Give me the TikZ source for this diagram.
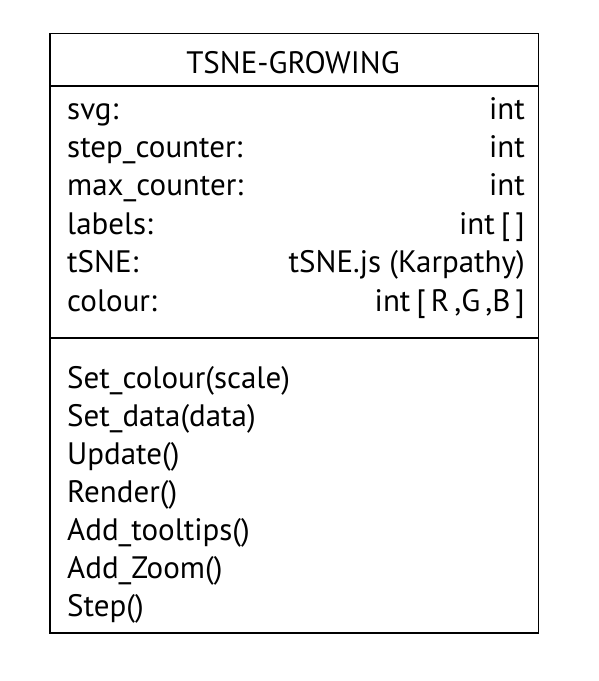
\documentclass[tikz,border=0pt]{standalone}
\usepackage{fontspec}
\setmainfont{PT Sans}
\begin{document}
\begin{tikzpicture}[x=1pt,y=1pt,
  umltext/.style={inner sep=0pt,font=\fontsize{31}{36}\selectfont},
  lefttext/.style={umltext,anchor=base west},
  righttext/.style={umltext,anchor=base east},
  frame/.style={draw=black,line width=1.7pt}]
\useasboundingbox (0,0) rectangle (599,-681);
\coordinate (tl) at (50,-33.5);
\coordinate (br) at (538.5,-633);
\coordinate (h1) at (50,-86);
\coordinate (h2) at (538.5,-86);
\coordinate (s1) at (50,-338);
\coordinate (s2) at (538.5,-338);
\draw[frame] (tl) rectangle (br);
\draw[frame] (h1) -- (h2);
\draw[frame] (s1) -- (s2);
\node[umltext,anchor=base] (title) at (293,-73) {TSNE-GROWING};
\node[lefttext] (a1) at (67,-119) {svg:};
\node[lefttext] (a2) at (67,-157.4) {step\_counter:};
\node[lefttext] (a3) at (67,-195.8) {max\_counter:};
\node[lefttext] (a4) at (67,-234.2) {labels:};
\node[lefttext] (a5) at (67,-272.6) {tSNE:};
\node[lefttext] (a6) at (67,-311) {colour:};
\node[righttext] (t1) at (525,-119) {int};
\node[righttext] (t2) at (525,-157.4) {int};
\node[righttext] (t3) at (525,-195.8) {int};
\node[righttext] (t4) at (525,-234.2) {int\hspace{6pt}[\hspace{5pt}]};
\node[righttext] (t5) at (525,-272.6) {tSNE.js (Karpathy)};
\node[righttext] (t6) at (525,-311) {int\hspace{6pt}[\hspace{5pt}R\hspace{5pt},G\hspace{5pt},B\hspace{5pt}]};
\node[lefttext] (m1) at (67,-388) {Set\_colour(scale)};
\node[lefttext] (m2) at (67,-426) {Set\_data(data)};
\node[lefttext] (m3) at (67,-464) {Update()};
\node[lefttext] (m4) at (67,-502) {Render()};
\node[lefttext] (m5) at (67,-540) {Add\_tooltips()};
\node[lefttext] (m6) at (67,-578) {Add\_Zoom()};
\node[lefttext] (m7) at (67,-616) {Step()};
\end{tikzpicture}
\end{document}
